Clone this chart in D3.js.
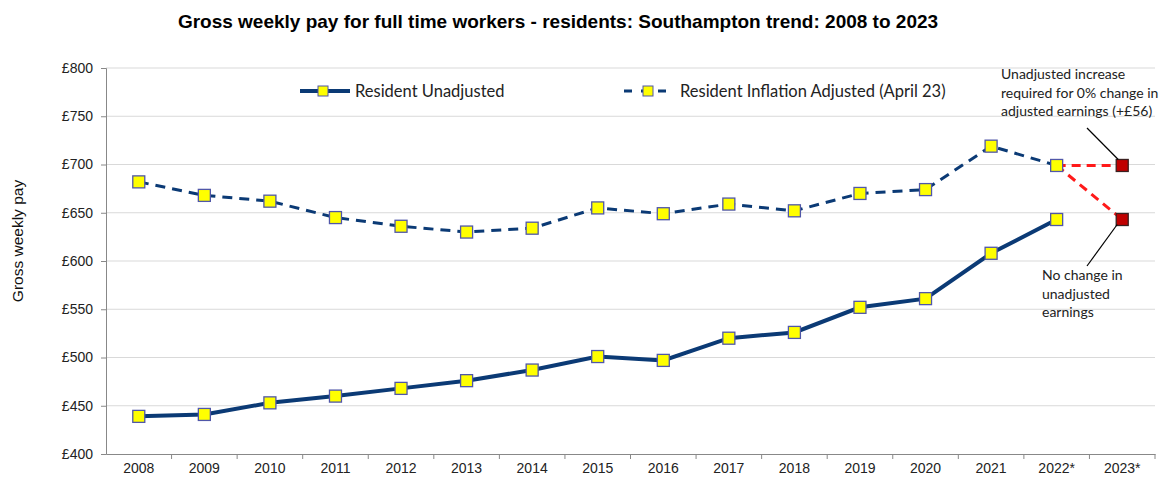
<!DOCTYPE html>
<html>
<head>
<title>Gross weekly pay - Southampton</title>
<script src="https://d3js.org/d3.v7.min.js"></script>
<style>
body { margin: 0; background: #fff; }
</style>
</head>
<body>
<div id="chart"></div>
<script>
// data
var years = ['2008','2009','2010','2011','2012','2013','2014','2015','2016','2017','2018','2019','2020','2021','2022*','2023*'];
var unadjusted = [439, 441, 453, 460, 468, 476, 487, 501, 497, 520, 526, 552, 561, 608, 643];
var adjusted = [682, 668, 662, 645, 636, 630, 634, 655, 649, 659, 652, 670, 674, 719, 699];
// 2023* projections: 0% adjusted change, no unadjusted change
var projYear = '2023*';
var projValues = [699, 643];
var yTicks = [400, 450, 500, 550, 600, 650, 700, 750, 800];

var navy = '#0b3a75';
var red = '#ff1a1a';
var sans = '"Liberation Sans", Arial, sans-serif';
var calib = 'Lato, "Open Sans", sans-serif';

var W = 1168, H = 481;
var margin = {top: 68, right: 13, bottom: 27, left: 106};
var width = W - margin.left - margin.right,
    height = H - margin.top - margin.bottom;

var svg = d3.select('#chart').append('svg')
    .attr('width', W).attr('height', H)
    .style('font-family', sans);

svg.append('text')
    .attr('x', 558).attr('y', 28)
    .attr('text-anchor', 'middle')
    .style('font-size', '19px').style('font-weight', 'bold')
    .text('Gross weekly pay for full time workers - residents: Southampton trend: 2008 to 2023');

var g = svg.append('g')
    .attr('transform', 'translate(' + margin.left + ',' + margin.top + ')');

var x = d3.scaleBand().domain(years).range([0, width]);
var y = d3.scaleLinear().domain([400, 800]).range([height, 0]);

// gridlines
g.append('g').selectAll('line')
    .data(yTicks.slice(1))
    .enter().append('line')
        .attr('x1', 0).attr('x2', width)
        .attr('y1', function(d) { return y(d); })
        .attr('y2', function(d) { return y(d); })
        .attr('stroke', '#d9d9d9').attr('stroke-width', 1);

// y axis
var yAxis = g.append('g')
    .call(d3.axisLeft(y).tickValues(yTicks).tickSize(5).tickPadding(8)
        .tickFormat(function(d) { return '£' + d; }));
yAxis.select('.domain').attr('stroke', '#888');
yAxis.selectAll('.tick line').attr('stroke', '#888');
yAxis.selectAll('text').style('font-size', '14px').attr('fill', '#222')
    .style('font-family', sans);

// x axis with ticks between categories
var xAxis = g.append('g')
    .attr('transform', 'translate(0,' + height + ')')
    .call(d3.axisBottom(x).tickSize(0).tickPadding(9).tickSizeOuter(0));
xAxis.select('.domain').attr('stroke', '#888');
xAxis.selectAll('text').style('font-size', '14px').attr('fill', '#222')
    .style('font-family', sans);
g.append('g').selectAll('line')
    .data(years)
    .enter().append('line')
        .attr('x1', function(d) { return x(d) + x.bandwidth(); })
        .attr('x2', function(d) { return x(d) + x.bandwidth(); })
        .attr('y1', height).attr('y2', height + 5)
        .attr('stroke', '#888');

function cx(i) { return x(years[i]) + x.bandwidth() / 2; }

var line = d3.line()
    .x(function(d, i) { return cx(i); })
    .y(function(d) { return y(d); });

// red projection lines
var lastAdj = adjusted[adjusted.length - 1];
projValues.forEach(function(v) {
    g.append('path')
        .attr('d', d3.line()([[cx(adjusted.length - 1), y(lastAdj)], [x(projYear) + x.bandwidth() / 2, y(v)]]))
        .attr('fill', 'none').attr('stroke', red)
        .attr('stroke-width', 3).attr('stroke-dasharray', '9,6');
});

g.append('path').datum(adjusted)
    .attr('d', line)
    .attr('fill', 'none').attr('stroke', navy)
    .attr('stroke-width', 3).attr('stroke-dasharray', '10,7');

g.append('path').datum(unadjusted)
    .attr('d', line)
    .attr('fill', 'none').attr('stroke', navy)
    .attr('stroke-width', 4);

var ms = 12;
function markers(data) {
    g.append('g').selectAll('rect')
        .data(data)
        .enter().append('rect')
            .attr('x', function(d, i) { return cx(i) - ms / 2; })
            .attr('y', function(d) { return y(d) - ms / 2; })
            .attr('width', ms).attr('height', ms)
            .attr('fill', '#ffff00').attr('stroke', '#5057a8').attr('stroke-width', 1.3);
}
markers(adjusted);
markers(unadjusted);

g.append('g').selectAll('rect')
    .data(projValues)
    .enter().append('rect')
        .attr('x', x(projYear) + x.bandwidth() / 2 - ms / 2)
        .attr('y', function(d) { return y(d) - ms / 2; })
        .attr('width', ms).attr('height', ms)
        .attr('fill', '#c00000').attr('stroke', '#3a2020').attr('stroke-width', 1.3);

// legend
var legend = svg.append('g');
legend.append('line')
    .attr('x1', 300).attr('x2', 350).attr('y1', 91).attr('y2', 91)
    .attr('stroke', navy).attr('stroke-width', 4);
legend.append('rect')
    .attr('x', 323 - 5).attr('y', 91 - 5).attr('width', 10).attr('height', 10)
    .attr('fill', '#ffff00').attr('stroke', '#5057a8');
legend.append('text')
    .attr('x', 355).attr('y', 97)
    .style('font-family', calib).style('font-size', '16.5px')
    .attr('fill', '#222')
    .text('Resident Unadjusted');

legend.append('line')
    .attr('x1', 624).attr('x2', 672).attr('y1', 91).attr('y2', 91)
    .attr('stroke', navy).attr('stroke-width', 3).attr('stroke-dasharray', '8,9');
legend.append('rect')
    .attr('x', 648 - 5).attr('y', 91 - 5).attr('width', 10).attr('height', 10)
    .attr('fill', '#ffff00').attr('stroke', '#5057a8');
legend.append('text')
    .attr('x', 680).attr('y', 97)
    .style('font-family', calib).style('font-size', '16.5px')
    .attr('fill', '#222')
    .text('Resident Inflation Adjusted (April 23)');

// y axis title
svg.append('text')
    .attr('transform', 'translate(23,241) rotate(-90)')
    .attr('text-anchor', 'middle')
    .style('font-size', '15.5px').attr('fill', '#111')
    .text('Gross weekly pay');

// annotations
var notes = svg.append('g')
    .style('font-family', calib).style('font-size', '14px')
    .attr('fill', '#222');
var note1 = ['Unadjusted increase', 'required for 0% change in', 'adjusted earnings (+£56)'];
notes.append('g').selectAll('text')
    .data(note1).enter().append('text')
        .attr('x', 1001).attr('y', function(d, i) { return 79 + i * 18.5; })
        .text(function(d) { return d; });
var note2 = ['No change in', 'unadjusted', 'earnings'];
notes.append('g').selectAll('text')
    .data(note2).enter().append('text')
        .attr('x', 1042).attr('y', function(d, i) { return 280 + i * 18.5; })
        .text(function(d) { return d; });

var px = margin.left + x(projYear) + x.bandwidth() / 2;
svg.append('line')
    .attr('x1', 1087).attr('y1', 128)
    .attr('x2', px - 4).attr('y2', margin.top + y(projValues[0]) - 6)
    .attr('stroke', '#000').attr('stroke-width', 1.2);
svg.append('line')
    .attr('x1', 1087).attr('y1', 266)
    .attr('x2', px - 5).attr('y2', margin.top + y(projValues[1]) + 5)
    .attr('stroke', '#000').attr('stroke-width', 1.2);
</script>
</body>
</html>
